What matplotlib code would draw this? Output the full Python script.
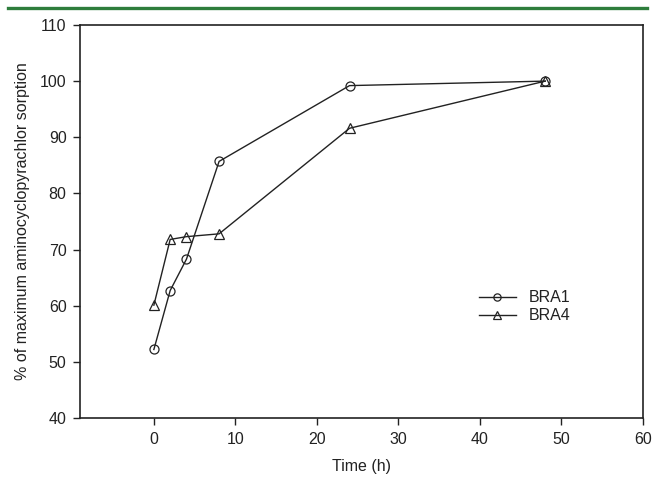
import matplotlib
matplotlib.use('Agg')
import matplotlib.pyplot as plt
from matplotlib.lines import Line2D

plt.rcParams['font.family'] = ['Liberation Sans', 'DejaVu Sans']

time_h = [0, 2, 4, 8, 24, 48]
bra1 = [52.2, 62.7, 68.3, 85.7, 99.2, 100.0]
bra4 = [60.1, 71.8, 72.3, 72.8, 91.6, 100.0]
series_names = ['BRA1', 'BRA4']

fig = plt.figure(figsize=(6.55, 4.83), dpi=100)

# green journal rule at the top
fig.add_artist(Line2D([0.012, 0.988], [0.983, 0.983], color='#2e7d3c', lw=2.4))

ax = fig.add_axes([0.1229, 0.1346, 0.8588, 0.8137])

ax.plot(time_h, bra1, color='#222222', lw=1.0, marker='o', ms=6.5,
        mfc='none', mec='#222222', mew=0.9, label=series_names[0])
ax.plot(time_h, bra4, color='#222222', lw=1.0, marker='^', ms=7,
        mfc='none', mec='#222222', mew=0.9, label=series_names[1])

ax.set_xlim(-9, 60)
ax.set_ylim(40, 110)
ax.set_xticks(range(0, 61, 10))
ax.set_yticks(range(40, 111, 10))
ax.tick_params(direction='out', length=5, width=1, colors='#222222',
               labelsize=11.5, pad=5)
for s in ax.spines.values():
    s.set_linewidth(1.2)
    s.set_color('#222222')

ax.set_xlabel('Time (h)', fontsize=11.5, color='#222222', labelpad=9)
ax.set_ylabel('% of maximum aminocyclopyrachlor sorption', fontsize=11.5,
              color='#222222', labelpad=7)

ax.legend(loc='upper left', bbox_to_anchor=(0.683, 0.362), frameon=False,
          fontsize=11.5, handlelength=2.3, handletextpad=0.8, labelspacing=0.2,
          labelcolor='#222222', markerscale=0.8)

fig.savefig('out.png', dpi=100)
